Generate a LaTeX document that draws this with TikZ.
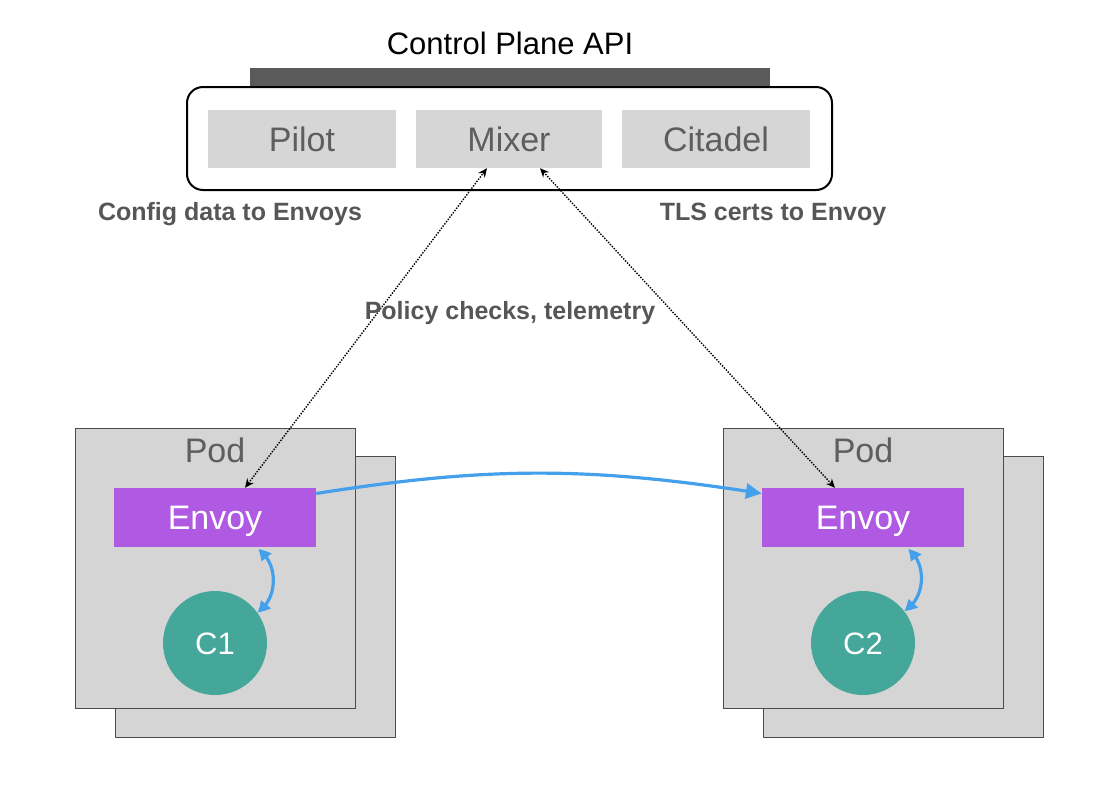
\documentclass[tikz,border=0pt]{standalone}
\usepackage{fontspec}
\setmainfont{Liberation Sans}
\usetikzlibrary{arrows.meta,bending}
\definecolor{boxgray}{HTML}{D6D6D6}
\definecolor{podgray}{HTML}{D5D5D5}
\definecolor{txtgray}{HTML}{5E5E5E}
\definecolor{lblgray}{HTML}{565656}
\definecolor{envoyc}{HTML}{B05AE3}
\definecolor{tealc}{HTML}{45A79A}
\definecolor{bluec}{HTML}{45A0EC}
\definecolor{barc}{HTML}{5A5A5A}
\tikzset{
  bigtxt/.style={font=\fontsize{34}{36}\selectfont, text height=24.3, text depth=0},
  compbox/.style={fill=boxgray, draw=none, minimum height=58, inner sep=0,
    text=txtgray, bigtxt},
  podbox/.style={fill=podgray, draw=black!70, line width=1, minimum width=280, minimum height=280, inner sep=0},
  podlbl/.style={text=txtgray, bigtxt, inner sep=0},
  envoybox/.style={fill=envoyc, minimum width=202, minimum height=59, inner sep=0,
    text=white, bigtxt},
  cont/.style={circle, fill=tealc, minimum size=104, inner sep=0,
    text=white, font=\fontsize{31}{33}\selectfont, text height=22.2, text depth=0},
  lbl/.style={text=lblgray, font=\bfseries\fontsize{25}{27}\selectfont, inner sep=0},
  dotarrow/.style={dash pattern=on 1.4pt off 1.4pt, line width=1.4, black,
    {Stealth[length=9,width=8]}-{Stealth[length=9,width=8]}},
  bluearrow/.style={bluec, line width=3.2, -{Triangle[length=16,width=15,bend]}},
  bluedouble/.style={bluec, line width=3.2, {Triangle[length=12,width=12,bend]}-{Triangle[length=12,width=12,bend]}}
}
\begin{document}
\begin{tikzpicture}[x=1pt,y=-1pt]
\useasboundingbox (0,0) rectangle (1104,804);
% control plane
\node[font=\fontsize{31}{33}\selectfont, inner sep=0, text height=22.2, text depth=0] (title) at (510,43) {Control Plane API};
\node[fill=barc, minimum width=520, minimum height=19, inner sep=0] (bar) at (510,77.5) {};
\node[draw=black, line width=2, fill=white, rounded corners=16, minimum width=645, minimum height=103, inner sep=0] (cp) at (509.5,138.5) {};
\node[compbox, minimum width=188] (pilot) at (302,139) {Pilot};
\node[compbox, minimum width=186] (mixer) at (509,139) {Mixer};
\node[compbox, minimum width=188] (citadel) at (716,139) {Citadel};
% labels
\node[lbl] (lcfg) at (230,214) {Config data to Envoys};
\node[lbl] (ltls) at (773,214) {TLS certs to Envoy};
% pods left
\node[podbox, minimum height=281] (pod1b) at (255,596.5) {};
\node[podbox] (pod1) at (215,568) {};
\node[podlbl] (pod1l) at (215,450) {Pod};
\node[envoybox] (envoy1) at (215,517.5) {Envoy};
\node[cont] (c1) at (215,643) {C1};
% pods right
\node[podbox, minimum height=281] (pod2b) at (903,596.5) {};
\node[podbox] (pod2) at (863,568) {};
\node[podlbl] (pod2l) at (863,450) {Pod};
\node[envoybox] (envoy2) at (863,517.5) {Envoy};
\node[cont] (c2) at (863,643) {C2};
% dotted connectors
\draw[dotarrow] ([xshift=30pt]envoy1.north) -- ([xshift=-22pt]mixer.south);
\draw[dotarrow] ([xshift=-28pt]envoy2.north) -- ([xshift=31pt]mixer.south);
\node[lbl] (lpol) at (510,313) {Policy checks, telemetry};
% blue connectors
\draw[bluearrow] ([yshift=24pt]envoy1.east) to[bend left=9] ([yshift=24pt]envoy2.west);
\draw[bluedouble] ([xshift=43pt,yshift=-2pt]envoy1.south) to[bend left=58] (c1.36);
\draw[bluedouble] ([xshift=45pt,yshift=-2pt]envoy2.south) to[bend left=58] (c2.38);
\end{tikzpicture}
\end{document}
